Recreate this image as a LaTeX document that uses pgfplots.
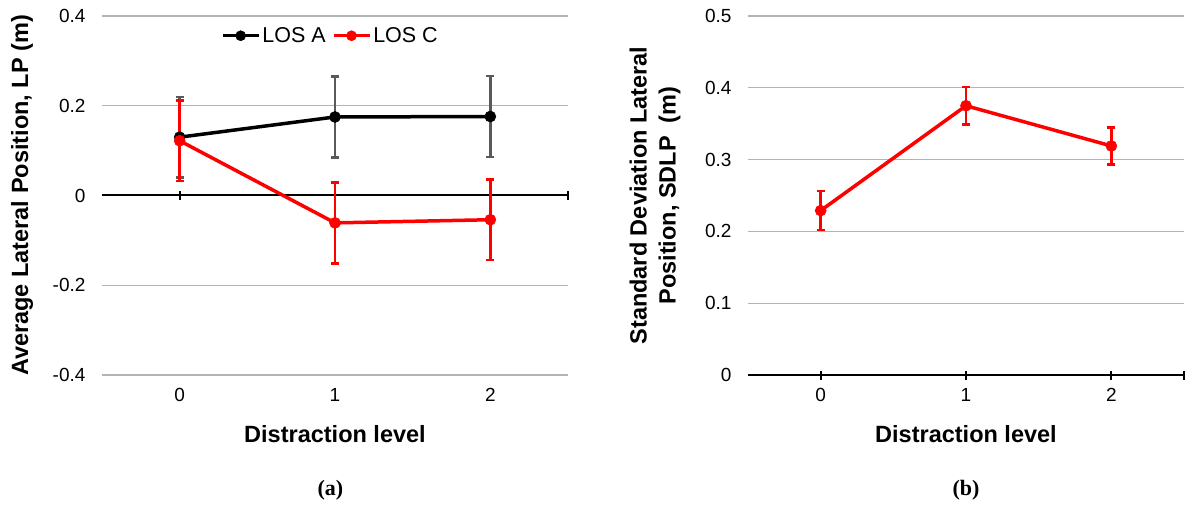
\documentclass[border=0pt]{standalone}
\usepackage{pgfplots}
\pgfplotsset{compat=1.18}
\usepackage{fontspec}
\setmainfont{Liberation Sans}
\newfontfamily\serifbf{Liberation Serif}
\definecolor{gridgray}{HTML}{B3B3B3}
\definecolor{errgray}{HTML}{595959}
\definecolor{losred}{HTML}{FF0000}

\pgfplotsset{
  panel/.style={
    scale only axis,
    height=359pt,
    xmin=-0.5, xmax=2.5,
    xtick={0,1,2},
    axis line style={draw=none},
    tick style={draw=none},
    ymajorgrids=true,
    grid style={gridgray, line width=1.2pt},
    clip=false,
    /pgf/number format/assume math mode=true,
    /pgf/number format/fixed,
    tick label style={font=\fontsize{19}{21}\selectfont},
    xticklabel style={yshift=-9.5pt},
    yticklabel style={xshift=-13pt},
    xlabel style={at={(rel axis cs:0.5,0)}, anchor=base, yshift=-67pt,
      font=\fontsize{23.5}{26}\selectfont\bfseries},
    xlabel={Distraction level},
  },
  ylab/.style={every axis y label/.style={at={(rel axis cs:#1,0.5)}, anchor=center,
      rotate=90, align=center, font=\fontsize{23.5}{29}\selectfont\bfseries}},
  errbar/.style={
    error bars/.cd, y dir=both, y explicit,
    error bar style={line width=2.5pt, color=#1},
    error mark options={rotate=90, line width=2.5pt, mark size=4pt, color=#1},
  },
  series/.style={#1, line width=3.5pt, mark=*, mark size=5.5pt,
    mark options={line width=0.6pt, fill=#1}},
}

\begin{document}
\begin{tikzpicture}
\path[use as bounding box] (0,0) rectangle (1185pt,506pt);

% panel (a): average lateral position
\begin{axis}[panel,
  at={(102pt,131pt)}, anchor=south west,
  width=466pt,
  ymin=-0.4, ymax=0.4,
  ytick={-0.4,-0.2,0,0.2,0.4},
  ylab=-0.1717,
  ylabel={Average Lateral Position, LP (m)},
  legend style={at={(rel axis cs:0.49,0.945)}, anchor=center, draw=none, fill=none,
    legend columns=2, font=\fontsize{21.5}{23}\selectfont,
    /tikz/every even column/.append style={column sep=4pt}},
  legend image code/.code={\draw[mark repeat=2, mark phase=2, mark size=5pt]
    plot coordinates {(0pt,0pt)(18pt,0pt)(36pt,0pt)};},
]
\draw[black, line width=2pt] (axis cs:-0.5,0) -- (axis cs:2.5,0);
\pgfplotsinvokeforeach{0,1,2,2.5}{
  \draw[black, line width=2pt] ([yshift=-4.5pt]axis cs:#1,0) -- ([yshift=4.5pt]axis cs:#1,0);
}

\addplot[series=black, errbar=errgray]
  coordinates {
  (0,0.130) +- (0,0.090)
  (1,0.175) +- (0,0.090)
  (2,0.176) +- (0,0.090)
  };
\addlegendentry{LOS A}
\addplot[series=losred, errbar=losred]
  coordinates {
  (0,0.122) +- (0,0.090)
  (1,-0.061) +- (0,0.090)
  (2,-0.054) +- (0,0.090)
  };
\addlegendentry{LOS C}
\node[font=\fontsize{22}{24}\selectfont\serifbf\bfseries, anchor=base]
  at ([yshift=-120pt]rel axis cs:0.49,0) {(a)};
\end{axis}

% panel (b): SDLP
\begin{axis}[panel,
  at={(748pt,131pt)}, anchor=south west,
  width=436pt,
  ymin=0, ymax=0.5,
  ytick={0,0.1,0.2,0.3,0.4,0.5},
  ylab=-0.2133,
  ylabel={Standard Deviation Lateral\\Position, SDLP\ \ (m)},
]
\draw[black, line width=2pt] (axis cs:-0.5,0) -- (axis cs:2.5,0);
\pgfplotsinvokeforeach{0,1,2,2.5}{
  \draw[black, line width=2pt] ([yshift=-4.5pt]axis cs:#1,0) -- ([yshift=4.5pt]axis cs:#1,0);
}

\addplot[series=losred, errbar=losred]
  coordinates {
  (0,0.229) +- (0,0.027)
  (1,0.375) +- (0,0.026)
  (2,0.319) +- (0,0.026)
  };
\node[font=\fontsize{22}{24}\selectfont\serifbf\bfseries, anchor=base]
  at ([yshift=-120pt]rel axis cs:0.5,0) {(b)};
\end{axis}
\end{tikzpicture}
\end{document}
